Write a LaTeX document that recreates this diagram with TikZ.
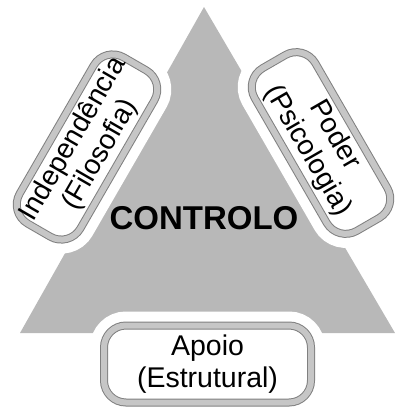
\documentclass[tikz,border=0pt]{standalone}
\usepackage{fontspec}
\setmainfont{Liberation Sans}
\usepackage{tikz}
\definecolor{dith}{gray}{0.72}
\definecolor{rim}{gray}{0.50}
\tikzset{
  pillar/.style={draw=rim,line width=1pt,double=dith!80!white,double distance=6pt,
    fill=white,rounded corners=22pt,align=center,inner sep=0pt,
    font=\fontsize{28}{31}\selectfont,
    preaction={draw=white,line width=28pt}},
  core/.style={font=\fontsize{33}{36}\selectfont\bfseries}
}
\newcommand{\pyramid}{%
  \fill[dith] (204,7) -- (395,333) -- (20,333) -- cycle;
}

\begin{document}
\begin{tikzpicture}[x=1pt,y=-1pt]
\useasboundingbox (0,0) rectangle (398,408);
\pyramid
\node[pillar,rotate=60,minimum width=192pt,minimum height=70pt] (indep) at (87,147) {Independência\\(Filosofia)};
\node[pillar,rotate=-60,minimum width=188pt,minimum height=70pt] (poder) at (321,143) {Poder\\(Psicologia)};
\node[pillar,minimum width=207pt,minimum height=77pt,font=\fontsize{28.5}{32}\selectfont] (apoio) at (207.5,364) {Apoio\\(Estrutural)};
\node[core] (ctrl) at (204,218) {CONTROLO};
\end{tikzpicture}
\end{document}
